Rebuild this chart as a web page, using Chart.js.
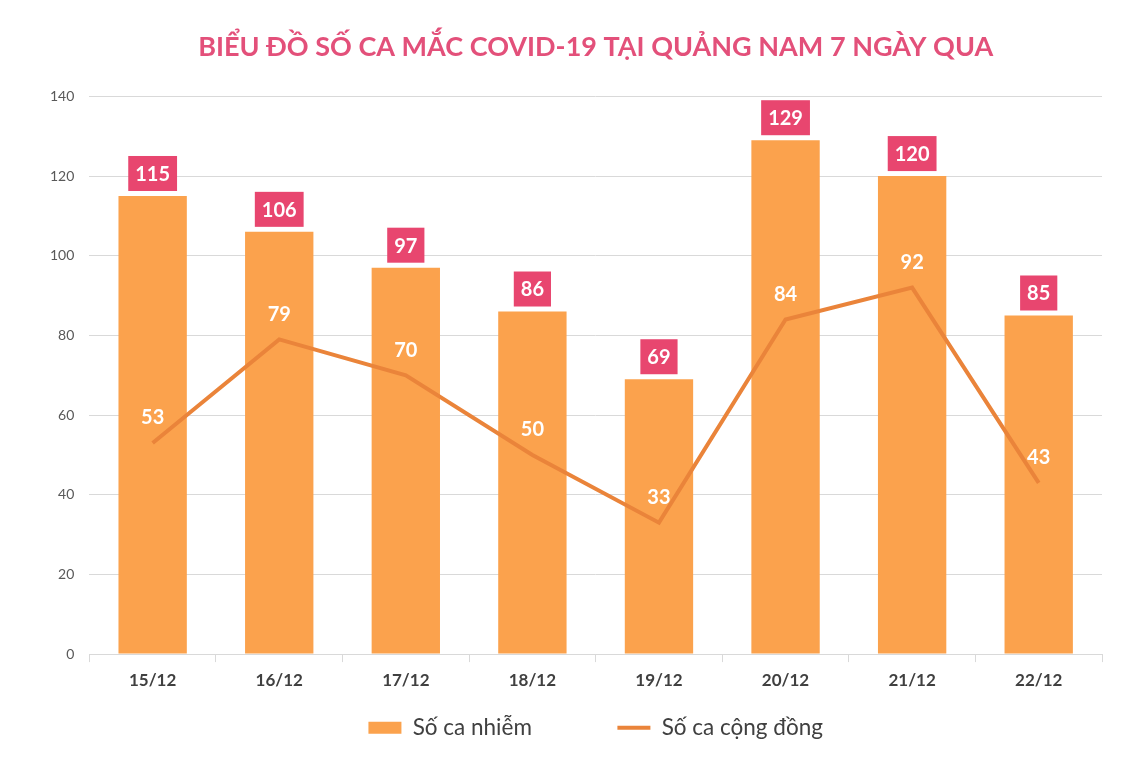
<!DOCTYPE html>
<html>
<head>
<meta charset="utf-8">
<script src="https://cdn.jsdelivr.net/npm/chart.js@4"></script>
<style>
  html, body { margin: 0; padding: 0; background: #fff; }
  #wrap { width: 1142px; height: 761px; }
</style>
</head>
<body>
<div id="wrap"><canvas id="covidChart"></canvas></div>
<script>
// Chart data
const days = ['15/12', '16/12', '17/12', '18/12', '19/12', '20/12', '21/12', '22/12'];
const soCaNhiem = [115, 106, 97, 86, 69, 129, 120, 85];
const soCaCongDong = [53, 79, 70, 50, 33, 84, 92, 43];
const yTicks = [0, 20, 40, 60, 80, 100, 120, 140];

const FONT = 'Lato, "Open Sans", sans-serif';

// Value labels: pink boxes on bars, white text over the line points
const valueLabels = {
    id: 'valueLabels',
    afterDatasetsDraw(chart) {
        const ctx = chart.ctx;
        ctx.save();
        ctx.font = 'bold 20px ' + FONT;
        ctx.textAlign = 'center';
        ctx.textBaseline = 'middle';

        chart.getDatasetMeta(0).data.forEach((bar, i) => {
            const txt = String(soCaNhiem[i]);
            const w = ctx.measureText(txt).width + 14;
            const h = 35;
            const top = bar.y - 5 - h;
            ctx.fillStyle = '#E8466F';
            ctx.fillRect(bar.x - w / 2, top, w, h);
            ctx.fillStyle = '#fff';
            ctx.fillText(txt, bar.x, top + h / 2 + 1);
        });

        chart.getDatasetMeta(1).data.forEach((pt, i) => {
            ctx.fillStyle = '#fff';
            ctx.fillText(String(soCaCongDong[i]), pt.x, pt.y - 25);
        });
        ctx.restore();
    }
};

const ctx = document.getElementById('covidChart').getContext('2d');
const covidChart = new Chart(ctx, {
    type: 'bar',
    data: {
        labels: days,
        datasets: [{
            type: 'bar',
            label: 'Số ca nhiễm',
            data: soCaNhiem,
            backgroundColor: '#FBA24D',
            borderWidth: 0,
            categoryPercentage: 1,
            barPercentage: 0.54,
            order: 1
        }, {
            type: 'line',
            label: 'Số ca cộng đồng',
            data: soCaCongDong,
            borderColor: '#EA843A',
            backgroundColor: '#EA843A',
            borderWidth: 4,
            pointRadius: 0,
            tension: 0,
            order: 0
        }]
    },
    options: {
        responsive: true,
        maintainAspectRatio: false,
        animation: false,
        layout: {
            padding: { top: 31, right: 40, bottom: 12, left: 35 }
        },
        plugins: {
            title: {
                display: true,
                fullSize: false,
                text: 'BIỂU ĐỒ SỐ CA MẮC COVID-19 TẠI QUẢNG NAM 7 NGÀY QUA',
                color: '#E3507A',
                font: { family: FONT, size: 27, weight: 'bold' },
                padding: { top: 0, bottom: 33 }
            },
            legend: {
                position: 'bottom',
                fullSize: false,
                labels: {
                    usePointStyle: true,
                    pointStyleWidth: 33,
                    boxHeight: 12,
                    padding: 18,
                    color: '#404040',
                    font: { family: FONT, size: 22.5 },
                    sort: (a, b) => a.datasetIndex - b.datasetIndex,
                    generateLabels(chart) {
                        return chart.data.datasets.map((ds, i) => ({
                            // em spaces widen the gap between the two items
                            text: ds.label + (i === 0 ? '\u2003\u2003\u2003\u2003' : ''),
                            datasetIndex: i,
                            fillStyle: ds.type === 'bar' ? ds.backgroundColor : 'transparent',
                            strokeStyle: ds.type === 'bar' ? ds.backgroundColor : ds.borderColor,
                            lineWidth: ds.type === 'bar' ? 0 : 4,
                            pointStyle: ds.type === 'bar' ? 'rect' : 'line',
                            fontColor: '#404040',
                            hidden: false
                        }));
                    }
                }
            },
            tooltip: { enabled: false }
        },
        scales: {
            x: {
                offset: true,
                grid: {
                    offset: true,
                    drawOnChartArea: false,
                    drawTicks: true,
                    tickLength: 8,
                    color: '#D9D9D9'
                },
                border: { display: true, color: '#D9D9D9' },
                ticks: {
                    color: '#404040',
                    padding: 8,
                    font: { family: FONT, size: 17, weight: 'bold' }
                }
            },
            y: {
                min: 0,
                max: 140,
                afterBuildTicks(axis) {
                    axis.ticks = yTicks.map(v => ({ value: v }));
                },
                grid: {
                    color: '#D9D9D9',
                    drawTicks: false
                },
                border: { display: false },
                ticks: {
                    color: '#595959',
                    padding: 15,
                    font: { family: FONT, size: 14 }
                }
            }
        }
    },
    plugins: [valueLabels]
});
</script>
</body>
</html>
